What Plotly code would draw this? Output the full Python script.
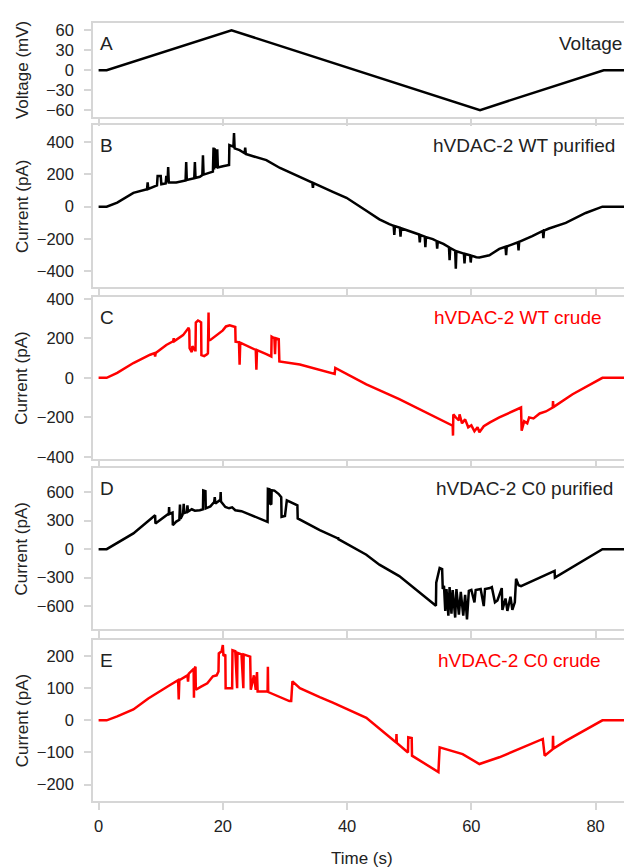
import plotly.graph_objects as go

# ---------------- data ----------------
volt_t = [0, 1.3, 21.4, 61.4, 81.3, 85.0]
volt_v = [0, 0, 60, -60, 0, 0]

wtp_t = [0, 1.3, 3.0, 5.6, 7.8, 7.9, 8.0, 8.3, 9.4, 9.5, 10.0, 10.1, 10.8, 10.9, 11.1, 11.2, 11.3,
         12.5, 14.0, 14.1, 14.2, 15.4, 15.5, 15.6, 16.3, 16.7, 16.8, 16.9, 17.5, 18.4, 18.5, 18.6,
         18.7, 19.0, 19.1, 19.2, 20.0, 21.0, 21.05, 21.7, 21.8, 21.9, 22.7, 23.5, 23.6, 23.7, 25.0,
         27.0, 29.2, 32.4, 34.4, 34.5, 34.6, 37.7, 39.9, 43.1, 45.2, 46.8, 47.5, 47.6, 47.7, 48.5,
         48.6, 48.7, 50.0, 50.6, 51.6, 51.7, 51.8, 52.5, 52.6, 52.7, 53.8, 54.4, 54.5, 54.6, 55.5,
         56.4, 56.5, 56.6, 57.4, 57.5, 57.6, 58.8, 58.9, 59.0, 59.8, 59.9, 60.0, 60.8, 61.3, 62.9,
         64.5, 65.5, 65.6, 65.7, 67.5, 67.6, 67.7, 69.8, 71.5, 71.6, 71.7, 72.5, 75.2, 78.4, 81.1, 85.0]
wtp_i = [0, 0, 25, 85, 108, 150, 110, 114, 132, 190, 190, 138, 144, 190, 150, 245, 150,
         150, 162, 275, 165, 175, 275, 178, 185, 195, 318, 198, 205, 216, 365, 230,
         360, 240, 355, 242, 250, 258, 380, 370, 455, 360, 349, 330, 365, 325, 310,
         288, 239, 185, 148, 116, 146, 92, 55, -25, -78, -108, -118, -175, -120, -130,
         -185, -133, -152, -159, -172, -220, -175, -185, -250, -188, -200, -212, -260, -215, -230,
         -250, -331, -255, -272, -384, -275, -290, -350, -292, -300, -345, -302, -312, -314, -300,
         -261, -248, -300, -246, -220, -270, -218, -182, -150, -195, -148, -135, -100, -39, 0, 0]

wtc_t = [0, 1.3, 3.0, 5.6, 8.3, 9.0, 9.1, 9.2, 10.9, 12.0, 12.1, 12.2, 13.6, 14.5, 14.6, 14.65,
         15.0, 15.1, 15.5, 15.6, 15.65, 16.0, 16.3, 16.5, 16.55, 17.0, 17.5, 17.6, 17.7, 17.75,
         18.0, 19.1, 20.0, 20.5, 21.1, 22.0, 22.05, 22.6, 22.7, 22.8, 24.0, 25.3, 25.4, 25.5, 27.0,
         27.8, 27.85, 28.3, 28.4, 28.5, 29.0, 29.1, 32.4, 35.6, 38.0, 38.1, 43.1, 48.4, 53.8, 57.0,
         57.05, 57.1, 57.5, 58.0, 58.1, 58.5, 59.0, 59.5, 60.0, 60.5, 61.0, 61.3, 62.0, 63.0, 64.5,
         66.0, 67.0, 68.0, 68.1, 68.5, 69.0, 69.3, 70.0, 71.0, 72.0, 73.1, 73.15, 73.2, 76.3, 81.1, 85.0]
wtc_i = [0, 0, 25, 75, 117, 125, 108, 126, 166, 185, 200, 186, 216, 253, 240, 150,
         130, 160, 140, 140, 280, 290, 285, 280, 115, 110, 120, 125, 330, 190,
         192, 216, 240, 260, 266, 257, 183, 180, 67, 178, 160, 141, 41, 140, 120,
         108, 208, 200, 120, 200, 195, 83, 67, 41, 20, 50, -33, -108, -192, -242,
         -292, -185, -200, -215, -185, -230, -210, -250, -240, -270, -250, -275, -245, -225, -200,
         -180, -165, -150, -267, -220, -230, -200, -205, -180, -170, -150, -117, -148, -83, 0, 0]

c0p_t = [0, 1.3, 5.6, 9.1, 9.15, 11.3, 11.35, 11.4, 11.9, 11.95, 12.5, 13.0, 13.1, 13.2, 13.6,
         13.7, 13.8, 14.2, 14.3, 14.4, 15.0, 15.5, 16.3, 16.8, 16.85, 17.2, 17.25, 18.0, 18.6, 18.7,
         18.8, 19.3, 19.6, 19.65, 19.7, 20.4, 21.0, 21.5, 22.0, 23.0, 24.0, 25.0, 26.0, 27.2, 27.25,
         27.5, 27.6, 27.8, 27.85, 28.3, 29.0, 29.4, 29.45, 30.0, 30.3, 31.0, 32.0, 32.05, 35.6, 38.5,
         38.55, 38.6, 43.1, 45.2, 48.4, 54.3, 54.35, 54.9, 55.3, 55.4, 55.6, 55.8, 56.0, 56.3, 56.5,
         56.8, 57.0, 57.4, 57.6, 58.0, 58.3, 58.7, 59.0, 59.3, 59.6, 60.0, 60.5, 60.7, 61.5, 62.0,
         62.2, 63.0, 63.3, 63.8, 64.2, 64.9, 65.0, 65.5, 65.8, 66.3, 66.6, 67.0, 67.2, 67.6, 68.0,
         73.4, 73.45, 81.1, 85.0]
c0p_i = [0, 0, 166, 357, 270, 374, 443, 370, 385, 253, 290, 310, 470, 320, 374,
         478, 380, 390, 460, 395, 420, 405, 409, 420, 617, 610, 430, 450, 496, 547,
         480, 510, 520, 600, 500, 444, 430, 440, 410, 400, 374, 350, 320, 288, 634,
         630, 480, 470, 620, 616, 580, 547, 340, 350, 513, 490, 461, 323, 201, 114,
         125, 105, -59, -163, -284, -596, -354, -198, -210, -420, -385, -650, -420, -700, -400,
         -680, -430, -720, -420, -690, -450, -700, -480, -740, -440, -430, -560, -430, -420, -600,
         -420, -410, -400, -560, -540, -410, -640, -520, -650, -500, -640, -560, -312, -380, -390,
         -229, -300, 0, 0]

c0c_t = [0, 1.3, 3.0, 5.6, 8.0, 10.9, 11.5, 12.8, 12.9, 13.0, 13.6, 14.3, 14.4, 14.5, 15.3, 15.35,
         15.4, 15.6, 15.65, 16.5, 17.5, 18.4, 19.0, 19.3, 19.35, 19.8, 20.0, 20.1, 20.4, 20.45, 21.5,
         21.55, 22.0, 22.3, 22.35, 23.0, 23.3, 23.35, 24.0, 24.4, 24.5, 25.0, 25.3, 25.5, 25.6, 27.2,
         27.25, 27.3, 30.7, 31.0, 31.2, 32.4, 35.6, 37.7, 43.1, 47.9, 47.95, 48.0, 49.8, 49.85, 50.4,
         50.45, 54.7, 54.9, 58.6, 61.3, 64.5, 71.5, 71.8, 73.1, 73.15, 73.2, 75.2, 81.1, 85.0]
c0c_i = [0, 0, 12, 34, 68, 105, 110, 125, 65, 125, 131, 140, 120, 145, 160, 70,
         160, 167, 95, 105, 115, 137, 140, 152, 208, 215, 234, 200, 205, 100, 100,
         218, 215, 100, 210, 205, 100, 205, 200, 198, 95, 140, 95, 150, 90, 90,
         167, 88, 60, 60, 121, 100, 72, 55, 8, -69, -43, -70, -100, -53, -55,
         -110, -161, -84, -105, -136, -115, -58, -110, -90, -48, -88, -64, 0, 0]

panel_letters = ["A", "B", "C", "D", "E"]
panel_names = ["Voltage", "hVDAC-2 WT purified", "hVDAC-2 WT crude",
               "hVDAC-2 C0 purified", "hVDAC-2 C0 crude"]
y_titles = ["Voltage (mV)", "Current (pA)", "Current (pA)", "Current (pA)", "Current (pA)"]
y_ticks = [[60, 30, 0, -30, -60], [400, 200, 0, -200, -400], [400, 200, 0, -200, -400],
           [600, 300, 0, -300, -600], [200, 100, 0, -100, -200]]
x_ticks = [0, 20, 40, 60, 80]

# ---------------- styling ----------------
BLACK = "#000000"
RED = "#ff0000"
series = [(volt_t, volt_v, BLACK), (wtp_t, wtp_i, BLACK), (wtc_t, wtc_i, RED),
          (c0p_t, c0p_i, BLACK), (c0c_t, c0c_i, RED)]
name_colors = ["#222222", "#222222", RED, "#222222", RED]
y_ranges = [[-70.5, 71], [-498, 505], [-408, 408], [-838, 850], [-251, 251]]
domains = [[0.8791, 1.0], [0.6603, 0.8690], [0.4402, 0.6476], [0.2214, 0.4275], [0.0, 0.2074]]
name_x = [550, 424, 425, 427, 429]  # left positions of panel names (figure pixels)

FONT = "Liberation Sans, Arial, sans-serif"
GRID = "#d6d6d6"
L, R, T, B = 85, 8, 7, 75
W, H = 632, 868
PW = W - L - R

fig = go.Figure()
layout = dict(width=W, height=H, margin=dict(l=L, r=R, t=T, b=B),
              paper_bgcolor="white", plot_bgcolor="white", showlegend=False,
              font=dict(family=FONT, size=16.5, color="#222222"))
annotations = []

for i in range(5):
    n = "" if i == 0 else str(i + 1)
    t, v, c = series[i]
    fig.add_trace(go.Scatter(x=t, y=v, mode="lines", line=dict(color=c, width=2.5),
                             xaxis="x" + n, yaxis="y" + n, hoverinfo="skip"))
    layout["xaxis" + n] = dict(
        anchor="y" + n, range=[-0.9, 85.7], tickvals=x_ticks, ticks="outside",
        ticklen=7, tickcolor=GRID, tickwidth=1.5, showline=True, linecolor=GRID,
        linewidth=1.5, mirror=True, showgrid=False, zeroline=False,
        showticklabels=(i == 4), tickfont=dict(size=16.5, color="#222222"),
        ticklabelstandoff=2)
    if i > 0:
        layout["xaxis" + n]["matches"] = "x"
    layout["yaxis" + n] = dict(
        anchor="x" + n, domain=domains[i], range=y_ranges[i], tickvals=y_ticks[i],
        ticks="outside", ticklen=7, tickcolor=GRID, tickwidth=1.5, showline=True,
        linecolor=GRID, linewidth=1.5, mirror=True, showgrid=False, zeroline=False,
        tickfont=dict(size=16.5, color="#222222"), ticklabelstandoff=7)
    annotations.append(dict(text=panel_letters[i], xref="x" + n + " domain",
                            yref="y" + n + " domain", x=0, y=1, xanchor="left",
                            yanchor="top", xshift=5, yshift=-8, showarrow=False,
                            font=dict(size=19, color="#222222")))
    annotations.append(dict(text=panel_names[i], xref="x" + n + " domain",
                            yref="y" + n + " domain", x=(name_x[i] - L) / PW, y=1,
                            xanchor="left", yanchor="top", yshift=-8, showarrow=False,
                            font=dict(size=19, color=name_colors[i])))
    annotations.append(dict(text=y_titles[i], xref="paper", yref="y" + n + " domain",
                            x=0, y=0.5, xanchor="center", yanchor="middle", xshift=-71,
                            textangle=-90, showarrow=False,
                            font=dict(size=17, color="#222222")))

annotations.append(dict(text="Time (s)", xref="paper", yref="paper", x=0.5, y=0,
                        xanchor="center", yanchor="middle", yshift=-57, showarrow=False,
                        font=dict(size=17, color="#222222")))
layout["annotations"] = annotations
fig.update_layout(**layout)
fig.write_html("out.html")
